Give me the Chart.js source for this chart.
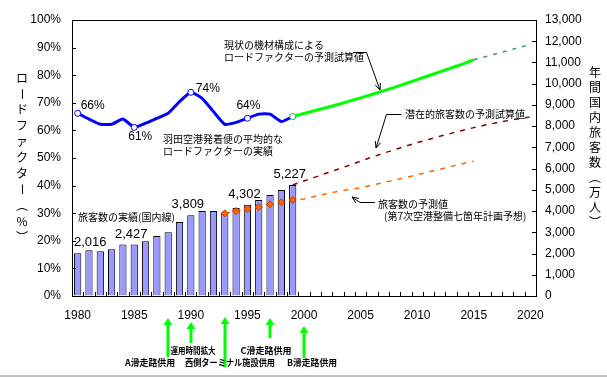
<!DOCTYPE html>
<html><head><meta charset="utf-8">
<script src="https://cdn.jsdelivr.net/npm/chart.js@4/dist/chart.umd.min.js"></script>
<style>html,body{margin:0;padding:0;background:#fff;overflow:hidden}canvas{display:block}</style>
</head><body>
<canvas id="c" width="607" height="377"></canvas>
<script>
// ---- data ----
const years = ['1980','1981','1982','1983','1984','1985','1986','1987','1988','1989',
  '1990','1991','1992','1993','1994','1995','1996','1997','1998','1999',
  '2000','2001','2002','2003','2004','2005','2006','2007','2008','2009',
  '2010','2011','2012','2013','2014','2015','2016','2017','2018','2019','2020'];
const xTickYears = ['1980','1985','1990','1995','2000','2005','2010','2015','2020'];
const leftTicks = [0,10,20,30,40,50,60,70,80,90,100];
const rightTicks = [0,1000,2000,3000,4000,5000,6000,7000,8000,9000,10000,11000,12000,13000];

// 旅客数の実績(国内線) 1980-1999 (万人)
const passengersActual = [2016,2150,2105,2200,2420,2427,2576,2826,3000,3485,
  3809,4004,4004,3909,4145,4302,4522,4757,4993,5227];
// 羽田空港発着便の平均的なロードファクターの実績 1980-1999 (%)
const loadFactorActual = [66.2,64.1,62.2,62.2,64.1,61.1,62.6,64.4,66.2,70.4,
  73.8,71.6,66.8,62.2,62.9,64.4,65.9,65.9,63.2,65.0];
// ロードファクターの予測試算値 1999-2015 (%)
const loadFactorForecast = [65.0,66.1,67.2,68.3,69.4,70.6,71.8,73.0,74.3,75.6,
  77.0,78.4,79.8,81.2,82.6,84.0,85.6];
// 延長 2015-2020 (%)
const loadFactorForecastExt = [85.6,86.7,87.8,88.9,90.0,91.2];
// 潜在的旅客数の予測試算値 1999-2020 (万人)
const potentialPassengers = [5227,5420,5600,5790,5970,6160,6350,6540,6720,6890,7060,
  7220,7370,7520,7660,7800,7930,8050,8160,8260,8350,8430];
// 旅客数の予測値 1993-2015 (万人)
const plannedPassengers = [3895,4004,4098,4192,4318,4412,4522,4570,4700,4820,4930,
  5020,5100,5220,5340,5460,5580,5710,5840,5970,6100,6230,6350];
const plannedMarkerYears = ['1993','1994','1995','1996','1997','1998','1999'];
const passengerLabelYears = ['1980','1985','1990','1995','1999'];
const loadLabelYears = ['1980','1985','1990','1995'];
const loadMarkerYears = ['1980','1985','1990','1995'];
const events = [
  {year:'1988', label:'A滑走路供用'},
  {year:'1990', label:'運用時間拡大'},
  {year:'1993', label:'西側ターミナル施設供用'},
  {year:'1997', label:'C滑走路供用'},
  {year:'2000', label:'B滑走路供用'}
];

// ---- helpers ----
function place(startYear, arr){
  const out = years.map(()=>null);
  const s = years.indexOf(startYear);
  arr.forEach((v,i)=>{ out[s+i]=v; });
  return out;
}
const NUM = "'Liberation Sans', Arial, sans-serif";
const JP = "'Noto Sans CJK JP', sans-serif";

const plannedData = place('1993', plannedPassengers);
const plannedRadius = years.map(y => plannedMarkerYears.includes(y) ? 3.5 : 0);
const blueRadius = years.map(y => loadMarkerYears.includes(y) ? 3 : 0);
const greenRadius = years.map(y => y==='1999' ? 3 : 0);

function arrowLine(ctx, pts, head){
  ctx.beginPath();
  ctx.moveTo(pts[0][0], pts[0][1]);
  for (let i=1;i<pts.length;i++) ctx.lineTo(pts[i][0], pts[i][1]);
  ctx.stroke();
  const [x1,y1] = pts[pts.length-2], [x2,y2] = pts[pts.length-1];
  const a = Math.atan2(y2-y1, x2-x1);
  ctx.beginPath();
  ctx.moveTo(x2 - head*Math.cos(a-0.4), y2 - head*Math.sin(a-0.4));
  ctx.lineTo(x2, y2);
  ctx.lineTo(x2 - head*Math.cos(a+0.4), y2 - head*Math.sin(a+0.4));
  ctx.stroke();
}

function fitText(ctx, txt, cx, cy, maxW){
  const w = ctx.measureText(txt).width;
  const k = w > maxW ? maxW / w : 1;
  ctx.save();
  ctx.translate(cx, cy);
  ctx.scale(k, 1);
  ctx.textAlign = 'center'; ctx.textBaseline = 'middle';
  ctx.fillText(txt, 0, 0);
  ctx.restore();
}

function verticalText(ctx, chars, x, y0, step){
  ctx.save();
  ctx.fillStyle = '#000';
  ctx.font = '12px ' + JP;
  ctx.textAlign = 'center';
  ctx.textBaseline = 'middle';
  chars.forEach((ch,i)=>{
    const y = y0 + i*step;
    if (ch === 'ー') {
      ctx.save(); ctx.translate(x,y); ctx.rotate(Math.PI/2);
      ctx.fillText(ch,0,0); ctx.restore();
    } else {
      ctx.fillText(ch, x, y);
    }
  });
  ctx.restore();
}

const deco = {
  id:'deco',
  afterDatasetsDraw(chart){
    const ctx = chart.ctx, xs = chart.scales.x, yl = chart.scales.yL, yr = chart.scales.yR;
    const ca = chart.chartArea;
    ctx.save();
    // top border
    ctx.strokeStyle = '#000'; ctx.lineWidth = 1;
    ctx.beginPath(); ctx.moveTo(ca.left, ca.top+0.5); ctx.lineTo(ca.right, ca.top+0.5); ctx.stroke();
    // inward ticks
    ctx.beginPath();
    leftTicks.forEach(v=>{ const y=Math.round(yl.getPixelForValue(v))+0.5; ctx.moveTo(ca.left,y); ctx.lineTo(ca.left+4,y); });
    rightTicks.forEach(v=>{ const y=Math.round(yr.getPixelForValue(v))+0.5; ctx.moveTo(ca.right-4,y); ctx.lineTo(ca.right,y); });
    const half = (xs.getPixelForValue(1)-xs.getPixelForValue(0))/2;
    for (let i=1;i<years.length;i++){
      const x = Math.round(xs.getPixelForValue(i)-half)+0.5;
      ctx.moveTo(x, ca.bottom); ctx.lineTo(x, ca.bottom-4);
    }
    ctx.stroke();

    // passenger value labels
    ctx.fillStyle = '#000';
    ctx.font = '13px ' + NUM;
    ctx.textAlign = 'center'; ctx.textBaseline = 'bottom';
    passengerLabelYears.forEach(y=>{
      const i = years.indexOf(y);
      const v = passengersActual[i];
      const txt = v.toLocaleString('en-US');
      const w = ctx.measureText(txt).width;
      let x = xs.getPixelForValue(i) - 3;
      if (x - w/2 < ca.left + 2) x = ca.left + 2 + w/2;
      ctx.fillText(txt, x, yr.getPixelForValue(v) - 4);
    });

    // load factor labels
    ctx.font = '12px ' + NUM;
    const lfPlace = {
      '1980': {dx:3, dy:-2, align:'left', base:'bottom'},
      '1985': {dx:6, dy:3, align:'center', base:'top'},
      '1990': {dx:5, dy:2, align:'left', base:'bottom'},
      '1995': {dx:1, dy:-7, align:'center', base:'bottom'}
    };
    loadLabelYears.forEach(y=>{
      const i = years.indexOf(y);
      const v = loadFactorActual[i];
      const p = lfPlace[y];
      ctx.textAlign = p.align; ctx.textBaseline = p.base;
      ctx.fillText(Math.round(v)+'%', xs.getPixelForValue(i)+p.dx, yl.getPixelForValue(v)+p.dy);
    });

    // annotation texts
    ctx.font = '10px ' + JP;
    ctx.textAlign = 'left'; ctx.textBaseline = 'middle';
    ctx.fillText('現状の機材構成による', 224, 45);
    ctx.fillText('ロードファクターの予測試算値', 224, 57);
    ctx.fillText('羽田空港発着便の平均的な', 163, 139);
    ctx.fillText('ロードファクターの実績', 163, 151);
    ctx.fillText('潜在的旅客数の予測試算値', 405, 114);
    ctx.fillText('旅客数の予測値', 378, 204);
    ctx.fillText('(第7次空港整備七箇年計画予想)', 384, 216);
    ctx.fillText('旅客数の実績(国内線)', 78, 217);

    // leader lines
    ctx.strokeStyle = '#000'; ctx.lineWidth = 1;
    arrowLine(ctx, [[353,52.5],[366.5,52.5],[380,90]], 7);
    arrowLine(ctx, [[401.5,114.5],[386.5,114.5],[376,148]], 7);
    arrowLine(ctx, [[375,202.5],[360,202.5],[352,197]], 7);
    ctx.restore();
  },
  afterDraw(chart){
    const ctx = chart.ctx, xs = chart.scales.x;
    ctx.save();
    // axis titles (vertical)
    verticalText(ctx, ['ロ','ー','ド','フ','ァ','ク','タ','ー','︵','%','︶'], 22, 78, 15.9);
    verticalText(ctx, ['年','間','国','内','旅','客','数','︵','万','人','︶'], 595, 72, 15);

    // events (green arrows)
    const evStyle = [
      {tip:318, bottom:357, ly:363, lx:150, w:50},
      {tip:322, bottom:343, ly:351, lx:193, w:45},
      {tip:317, bottom:367, ly:363, lx:230, w:90},
      {tip:318, bottom:338, ly:351, lx:266, w:52},
      {tip:326, bottom:358, ly:363, lx:312, w:50}
    ];
    events.forEach((e,k)=>{
      const s = evStyle[k];
      const x = Math.round(xs.getPixelForValue(years.indexOf(e.year)));
      ctx.strokeStyle = '#00FF00'; ctx.fillStyle = '#00FF00'; ctx.lineWidth = 3;
      ctx.beginPath(); ctx.moveTo(x, s.bottom); ctx.lineTo(x, s.tip+5); ctx.stroke();
      ctx.beginPath(); ctx.moveTo(x-4.5, s.tip+7); ctx.lineTo(x, s.tip); ctx.lineTo(x+4.5, s.tip+7); ctx.closePath(); ctx.fill();
      ctx.fillStyle = '#000';
      ctx.font = 'bold 9px ' + JP;
      fitText(ctx, e.label, s.lx, s.ly, s.w);
    });
    // bottom frame line
    ctx.strokeStyle = '#c0c0c0'; ctx.lineWidth = 2;
    ctx.beginPath(); ctx.moveTo(0, 376); ctx.lineTo(607, 376); ctx.stroke();
    ctx.restore();
  }
};

new Chart(document.getElementById('c'), {
  data: {
    labels: years,
    datasets: [
      { type:'line', label:'ロードファクターの実績', yAxisID:'yL', data: place('1980', loadFactorActual),
        borderColor:'#0000FF', borderWidth:3, tension:0.15, pointRadius: blueRadius,
        pointBackgroundColor:'#fff', pointBorderColor:'#0000FF', pointBorderWidth:1, order:2 },
      { type:'line', label:'ロードファクターの予測試算値', yAxisID:'yL', data: place('1999', loadFactorForecast),
        borderColor:'#00FF00', borderWidth:3, tension:0, pointRadius: greenRadius,
        pointBackgroundColor:'#fff', pointBorderColor:'#339966', pointBorderWidth:1, order:1 },
      { type:'line', label:'延長', yAxisID:'yL', data: place('2015', loadFactorForecastExt),
        borderColor:'#339966', borderWidth:1.5, borderDash:[4,6], pointRadius:0, order:3 },
      { type:'line', label:'潜在的旅客数の予測試算値', yAxisID:'yR', data: place('1999', potentialPassengers),
        borderColor:'#800000', borderWidth:1.5, borderDash:[5,6], pointRadius:0, order:4 },
      { type:'line', label:'旅客数の予測値', yAxisID:'yR', data: plannedData,
        borderColor:'#FF6600', borderWidth:1.5, borderDash:[5,6], pointRadius: plannedRadius,
        pointStyle:'rectRot', pointBackgroundColor:'#FF6600', pointBorderColor:'#CC3300', pointBorderWidth:1, order:3 },
      { type:'bar', label:'旅客数の実績(国内線)', yAxisID:'yR', data: place('1980', passengersActual),
        backgroundColor:'#9999FF', borderColor:'#000', borderWidth:1, barPercentage:0.64, categoryPercentage:1, order:10 }
    ]
  },
  options: {
    responsive:false, animation:false, devicePixelRatio:1,
    layout:{ padding:{ top:20, left:0, right:0, bottom:0 } },
    plugins:{ legend:{display:false}, tooltip:{enabled:false} },
    spanGaps:false,
    scales:{
      x:{ type:'category', offset:true,
        grid:{ display:true, drawOnChartArea:false, drawTicks:false, offset:true },
        border:{ display:true, color:'#000', width:1 },
        ticks:{ autoSkip:false, maxRotation:0, padding:12, color:'#000', font:{family:NUM, size:12},
          callback:(v,i)=> xTickYears.includes(years[i]) ? years[i] : '' },
        afterFit:(s)=>{ s.height = 81; } },
      yL:{ position:'left', min:0, max:100,
        grid:{ display:true, drawOnChartArea:false, drawTicks:false },
        border:{ display:true, color:'#000', width:1 },
        ticks:{ stepSize:10, padding:11, color:'#000', font:{family:NUM, size:12}, callback:(v)=> v+'%' },
        afterFit:(s)=>{ s.width = 72; } },
      yR:{ position:'right', min:0, max:13000,
        grid:{ display:true, drawOnChartArea:false, drawTicks:false },
        border:{ display:true, color:'#000', width:1 },
        ticks:{ stepSize:1000, padding:9, color:'#000', font:{family:NUM, size:12}, callback:(v)=> v.toLocaleString('en-US') },
        afterFit:(s)=>{ s.width = 71; } }
    }
  },
  plugins:[deco]
});
</script>
</body></html>
